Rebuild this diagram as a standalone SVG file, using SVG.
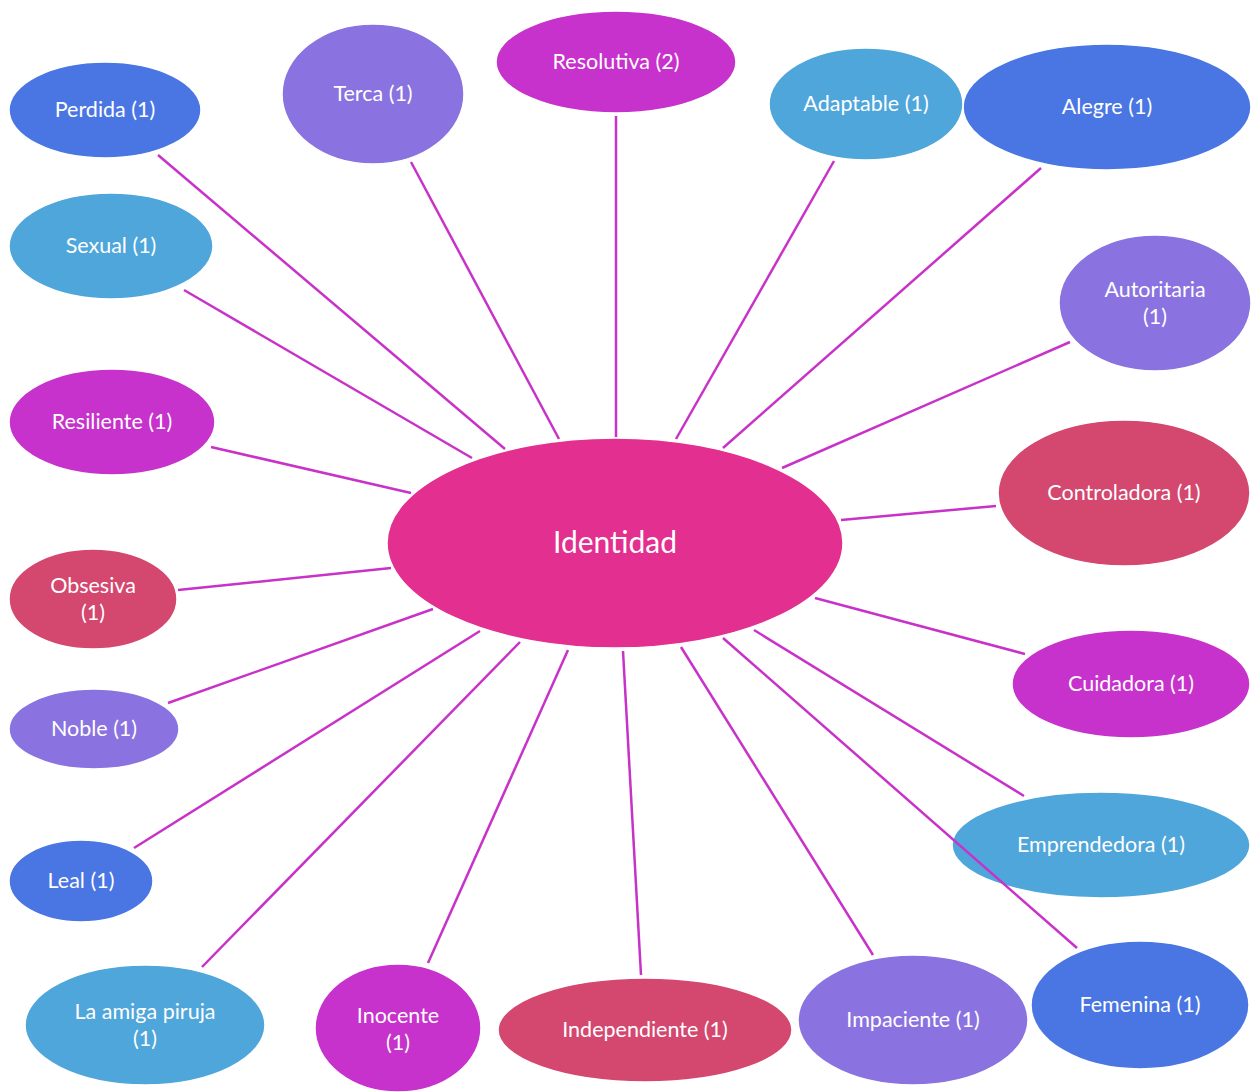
<svg xmlns="http://www.w3.org/2000/svg" width="1254" height="1092" viewBox="0 0 1254 1092">
  <style>
    .n ellipse { stroke: #ffffff; stroke-width: 1.5; }
    .blue { fill: #4a76e4; }
    .lav { fill: #8a73e0; }
    .mag { fill: #c732cc; }
    .sky { fill: #4fa6db; }
    .rose { fill: #d4476f; }
    .core { fill: #e32f8f; }
    text { font-family: Lato, "Open Sans", "Liberation Sans", sans-serif; fill: #ffffff; text-anchor: middle; font-size: 21.5px; }
    .big { font-size: 30px; }
    .links line { stroke: #c832c8; stroke-width: 2.5; }
  </style>
  <rect width="1254" height="1092" fill="#ffffff"/>

  <g id="node-identidad" class="n"><ellipse class="core" cx="615" cy="543" rx="228" ry="105"/><text class="big" x="615" y="553">Identidad</text></g>
  <g id="node-perdida" class="n"><ellipse class="blue" cx="105" cy="110" rx="96" ry="48"/><text x="105" y="117">Perdida (1)</text></g>
  <g id="node-terca" class="n"><ellipse class="lav" cx="373" cy="94" rx="91" ry="70"/><text x="373" y="101">Terca (1)</text></g>
  <g id="node-resolutiva" class="n"><ellipse class="mag" cx="616" cy="62" rx="120" ry="51"/><text x="616" y="69">Resolutiva (2)</text></g>
  <g id="node-alegre" class="n"><ellipse class="blue" cx="1107" cy="107" rx="144" ry="63"/><text x="1107" y="114">Alegre (1)</text></g>
  <g id="node-adaptable" class="n"><ellipse class="sky" cx="866" cy="104" rx="97" ry="56"/><text x="866" y="111">Adaptable (1)</text></g>
  <g id="node-sexual" class="n"><ellipse class="sky" cx="111" cy="246" rx="102" ry="53"/><text x="111" y="253">Sexual (1)</text></g>
  <g id="node-autoritaria" class="n"><ellipse class="lav" cx="1155" cy="303" rx="96" ry="68"/><text x="1155" y="297">Autoritaria</text><text x="1155" y="324">(1)</text></g>
  <g id="node-resiliente" class="n"><ellipse class="mag" cx="112" cy="422" rx="103" ry="53"/><text x="112" y="429">Resiliente (1)</text></g>
  <g id="node-controladora" class="n"><ellipse class="rose" cx="1124" cy="493" rx="126" ry="73"/><text x="1124" y="500">Controladora (1)</text></g>
  <g id="node-obsesiva" class="n"><ellipse class="rose" cx="93" cy="599" rx="84" ry="50"/><text x="93" y="593">Obsesiva</text><text x="93" y="620">(1)</text></g>
  <g id="node-noble" class="n"><ellipse class="lav" cx="94" cy="729" rx="85" ry="40"/><text x="94" y="736">Noble (1)</text></g>
  <g id="node-cuidadora" class="n"><ellipse class="mag" cx="1131" cy="684" rx="119" ry="54"/><text x="1131" y="691">Cuidadora (1)</text></g>
  <g id="node-emprendedora" class="n"><ellipse class="sky" cx="1101" cy="845" rx="149" ry="53"/><text x="1101" y="852">Emprendedora (1)</text></g>
  <g id="node-leal" class="n"><ellipse class="blue" cx="81" cy="881" rx="72" ry="41"/><text x="81" y="888">Leal (1)</text></g>
  <g id="node-amiga" class="n"><ellipse class="sky" cx="145" cy="1025" rx="120" ry="60"/><text x="145" y="1019">La amiga piruja</text><text x="145" y="1046">(1)</text></g>
  <g id="node-inocente" class="n"><ellipse class="mag" cx="398" cy="1028" rx="83" ry="64"/><text x="398" y="1023">Inocente</text><text x="398" y="1050">(1)</text></g>
  <g id="node-independiente" class="n"><ellipse class="rose" cx="645" cy="1030" rx="147" ry="52"/><text x="645" y="1037">Independiente (1)</text></g>
  <g id="node-impaciente" class="n"><ellipse class="lav" cx="913" cy="1020" rx="115" ry="65"/><text x="913" y="1027">Impaciente (1)</text></g>
  <g id="node-femenina" class="n"><ellipse class="blue" cx="1140" cy="1005" rx="109" ry="64"/><text x="1140" y="1012">Femenina (1)</text></g>

  <g id="connectors" class="links">
    <line x1="158" y1="155" x2="505" y2="449"/>
    <line x1="411" y1="162" x2="559" y2="439"/>
    <line x1="616" y1="116" x2="616" y2="437"/>
    <line x1="834" y1="161" x2="676" y2="439"/>
    <line x1="1041" y1="168" x2="723" y2="448"/>
    <line x1="184" y1="290" x2="472" y2="458"/>
    <line x1="1070" y1="342" x2="782" y2="468"/>
    <line x1="211" y1="447" x2="411" y2="493"/>
    <line x1="996" y1="506" x2="841" y2="520"/>
    <line x1="178" y1="590" x2="391" y2="568"/>
    <line x1="168" y1="703" x2="433" y2="609"/>
    <line x1="1025" y1="654" x2="815" y2="598"/>
    <line x1="1024" y1="796" x2="754" y2="630"/>
    <line x1="134" y1="848" x2="480" y2="631"/>
    <line x1="202" y1="967" x2="520" y2="642"/>
    <line x1="428" y1="963" x2="568" y2="650"/>
    <line x1="641" y1="975" x2="623" y2="651"/>
    <line x1="873" y1="955" x2="681" y2="647"/>
    <line x1="1077" y1="948" x2="723" y2="638"/>
  </g>
</svg>
